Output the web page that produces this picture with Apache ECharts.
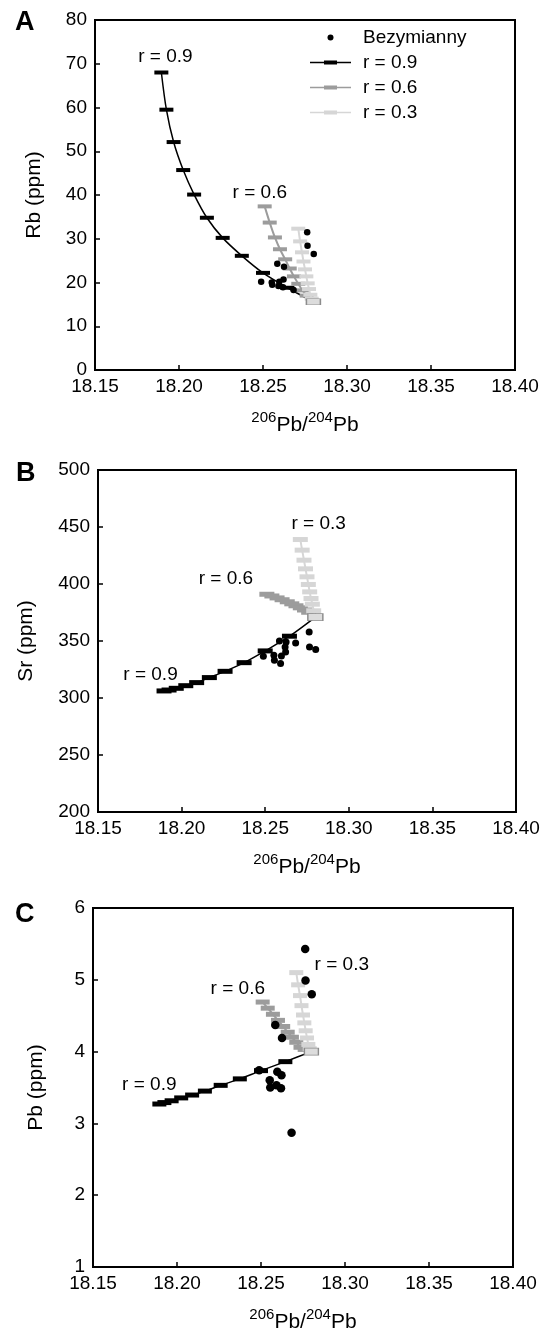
<!DOCTYPE html>
<html>
<head>
<meta charset="utf-8">
<script src="https://cdn.jsdelivr.net/npm/echarts@6/dist/echarts.min.js"></script>
<style>
html,body{margin:0;padding:0;background:#fff}
#chart{width:549px;height:1334px}
</style>
</head>
<body>
<div id="chart"></div>
<script>
// 206Pb/204Pb steps of the three model curves
var xR09 = [18.1895, 18.1925, 18.1968, 18.2025, 18.2090, 18.2166, 18.2260, 18.2374, 18.2500, 18.2645, 18.2800];
var xR06 = [18.2510, 18.2540, 18.2571, 18.2601, 18.2632, 18.2659, 18.2684, 18.2710, 18.2735, 18.2760, 18.2800];
var xR03 = [18.2710, 18.2721, 18.2732, 18.2741, 18.2750, 18.2758, 18.2766, 18.2774, 18.2782, 18.2790, 18.2800];

// Rb (ppm)
var rbR09 = [68.0, 59.5, 52.1, 45.7, 40.1, 34.8, 30.2, 26.1, 22.2, 18.8, 15.6];
var rbR06 = [37.4, 33.7, 30.3, 27.6, 25.3, 23.2, 21.4, 19.7, 18.2, 17.0, 15.6];
var rbR03 = [32.3, 29.4, 26.9, 24.8, 23.0, 21.4, 19.8, 18.5, 17.2, 16.3, 15.6];
// Sr (ppm)
var srR09 = [306.2, 307.0, 308.5, 310.8, 313.5, 317.9, 323.4, 331.0, 341.3, 354.2, 371.0];
var srR06 = [391.0, 389.5, 387.8, 386.2, 384.4, 382.6, 380.9, 379.1, 377.2, 375.2, 371.0];
var srR03 = [439.0, 429.7, 420.9, 413.3, 406.3, 399.6, 393.1, 387.3, 382.3, 376.5, 371.0];
// Pb (ppm)
var pbR09 = [3.27, 3.29, 3.315, 3.355, 3.395, 3.45, 3.53, 3.62, 3.735, 3.86, 4.00];
var pbR06 = [4.69, 4.605, 4.52, 4.435, 4.35, 4.27, 4.20, 4.13, 4.06, 4.03, 4.00];
var pbR03 = [5.10, 4.93, 4.78, 4.64, 4.51, 4.40, 4.29, 4.19, 4.10, 4.04, 4.00];

// Bezymianny samples
var sampleX  = [18.2763, 18.2765, 18.2802, 18.2585, 18.2625, 18.2489, 18.2597, 18.2622, 18.2552, 18.2555, 18.2592, 18.2619, 18.2682];
var sampleRb = [31.5, 28.4, 26.5, 24.3, 23.6, 20.2, 20.2, 20.7, 20.0, 19.5, 19.2, 18.9, 18.3];
var sampleSr = [358.0, 344.8, 342.5, 350.1, 349.2, 336.6, 336.9, 340.4, 337.5, 333.1, 330.2, 344.8, 348.3];
var samplePb = [5.43, 4.99, 4.80, 4.37, 4.19, 3.74, 3.72, 3.67, 3.60, 3.50, 3.53, 3.49, 2.87];

var xTicks = [18.15, 18.20, 18.25, 18.30, 18.35, 18.40];

// curve labels: text, x, y
var labelsA = [['r = 0.9', 18.1919, 71.5], ['r = 0.6', 18.2481, 40.4]];
var labelsB = [['r = 0.3', 18.2820, 452.6], ['r = 0.6', 18.2265, 404.2], ['r = 0.9', 18.1814, 320.8]];
var labelsC = [['r = 0.3', 18.2981, 5.21], ['r = 0.6', 18.2362, 4.87], ['r = 0.9', 18.1835, 3.535]];

var FONT = 'Liberation Sans, Arial, sans-serif';
var C09 = '#000000', C06 = '#9c9c9c', C03 = '#d6d6d6';

function zip(xs, ys){ return xs.map(function(x,i){ return [x, ys[i]]; }); }

var panels = [
  {grid:{left:95, top:20, width:420, height:350}, min:0, max:80, step:10, name:'Rb (ppm)', gap:50,
   r09:rbR09, r06:rbR06, r03:rbR03, pts:sampleRb, labels:labelsA, dash:[14,4], dot:6.5},
  {grid:{left:98, top:470, width:418, height:342}, min:200, max:500, step:50, name:'Sr (ppm)', gap:61,
   r09:srR09, r06:srR06, r03:srR03, pts:sampleSr, labels:labelsB, dash:[15,5], dot:7},
  {grid:{left:93, top:908, width:420, height:359}, min:1, max:6, step:1, name:'Pb (ppm)', gap:46,
   r09:pbR09, r06:pbR06, r03:pbR03, pts:samplePb, labels:labelsC, dash:[14,5], dot:8.5}
];

var grids = [], xAxes = [], yAxes = [], series = [];

panels.forEach(function(p, i){
  grids.push(Object.assign({show:true, borderColor:'#000', borderWidth:2, containLabel:false, outerBoundsMode:'none'}, p.grid));
  xAxes.push({
    gridIndex:i, type:'value', min:xTicks[0], max:xTicks[xTicks.length-1], interval:0.05,
    axisLine:{lineStyle:{color:'#000', width:2}},
    axisTick:{inside:true, length:5, lineStyle:{color:'#000', width:1.5}},
    splitLine:{show:false},
    axisLabel:{color:'#000', fontSize:19, fontFamily:FONT, margin:7, formatter:function(v){ return v.toFixed(2); }},
    name:'{s|206}{m|Pb/}{s|204}{m|Pb}', nameLocation:'middle', nameGap:40, nameMoveOverlap:false,
    nameTextStyle:{fontFamily:FONT, color:'#000', rich:{
      s:{fontSize:15, fontFamily:FONT, color:'#000', verticalAlign:'top', lineHeight:26},
      m:{fontSize:21, fontFamily:FONT, color:'#000', verticalAlign:'bottom', lineHeight:26}
    }}
  });
  yAxes.push({
    gridIndex:i, type:'value', min:p.min, max:p.max, interval:p.step,
    axisLine:{lineStyle:{color:'#000', width:2}},
    axisTick:{inside:true, length:5, lineStyle:{color:'#000', width:1.5}},
    splitLine:{show:false},
    axisLabel:{color:'#000', fontSize:19, fontFamily:FONT, margin:8},
    name:p.name, nameLocation:'middle', nameGap:p.gap, nameRotate:90, nameMoveOverlap:false,
    nameTextStyle:{fontFamily:FONT, fontSize:21, color:'#000'}
  });

  var curves = [
    ['r = 0.9', xR09, p.r09, C09, 1.5],
    ['r = 0.6', xR06, p.r06, C06, 2],
    ['r = 0.3', xR03, p.r03, C03, 2]
  ];
  curves.forEach(function(c, k){
    var data = zip(c[1], c[2]).map(function(v, j){
      // shared end point drawn as the outlined box
      if (k === 2 && j === c[1].length - 1) {
        return {value:v, symbolSize:[p.dash[0], p.dash[1] + 2], itemStyle:{color:'#dcdcdc', borderColor:'#8c8c8c', borderWidth:1}};
      }
      return v;
    });
    series.push({
      type:'line', name:c[0], xAxisIndex:i, yAxisIndex:i, data:data,
      smooth:0.3, symbol:'rect', symbolSize:p.dash, showSymbol:true,
      lineStyle:{color:c[3], width:c[4]}, itemStyle:{color:c[3], opacity:1},
      z:2 + k, silent:true, emphasis:{disabled:true}
    });
  });

  series.push({
    type:'scatter', name:'Bezymianny', xAxisIndex:i, yAxisIndex:i, data:zip(sampleX, p.pts),
    symbol:'circle', symbolSize:p.dot, itemStyle:{color:'#000', opacity:1}, z:6, silent:true
  });

  series.push({
    type:'scatter', name:'labels' + i, xAxisIndex:i, yAxisIndex:i,
    data:p.labels.map(function(l){ return {name:l[0], value:[l[1], l[2]]}; }),
    symbolSize:0, z:7, silent:true, itemStyle:{opacity:1},
    label:{show:true, position:'inside', formatter:'{b}', color:'#000', opacity:1, fontSize:19, fontFamily:FONT}
  });
});

var ICON_LINE = 'path://M0,0M41,12M0,5.2L41,5.2L41,6.8L0,6.8ZM14,4L27,4L27,8L14,8Z';
var ICON_DOT = 'path://M0,0M41,12M17.5,6A3,3,0,1,0,23.5,6A3,3,0,1,0,17.5,6Z';

var option = {
  animation:false,
  textStyle:{fontFamily:FONT},
  grid:grids, xAxis:xAxes, yAxis:yAxes, series:series,
  legend:{
    orient:'vertical', left:310, top:28, padding:0, itemGap:6, itemWidth:41, itemHeight:12,
    selectedMode:false,
    itemStyle:{borderWidth:0, opacity:1},
    textStyle:{color:'#000', fontSize:19, fontFamily:FONT, padding:[0,0,0,7]},
    data:[
      {name:'Bezymianny', icon:ICON_DOT},
      {name:'r = 0.9', icon:ICON_LINE},
      {name:'r = 0.6', icon:ICON_LINE},
      {name:'r = 0.3', icon:ICON_LINE}
    ]
  },
  graphic:[
    {type:'text', left:15, top:9, style:{text:'A', font:'bold 27px ' + FONT, fill:'#000'}},
    {type:'text', left:16, top:460, style:{text:'B', font:'bold 27px ' + FONT, fill:'#000'}},
    {type:'text', left:15, top:901, style:{text:'C', font:'bold 27px ' + FONT, fill:'#000'}}
  ]
};

var myChart = echarts.init(document.getElementById('chart'));
myChart.setOption(option);
</script>
</body>
</html>
